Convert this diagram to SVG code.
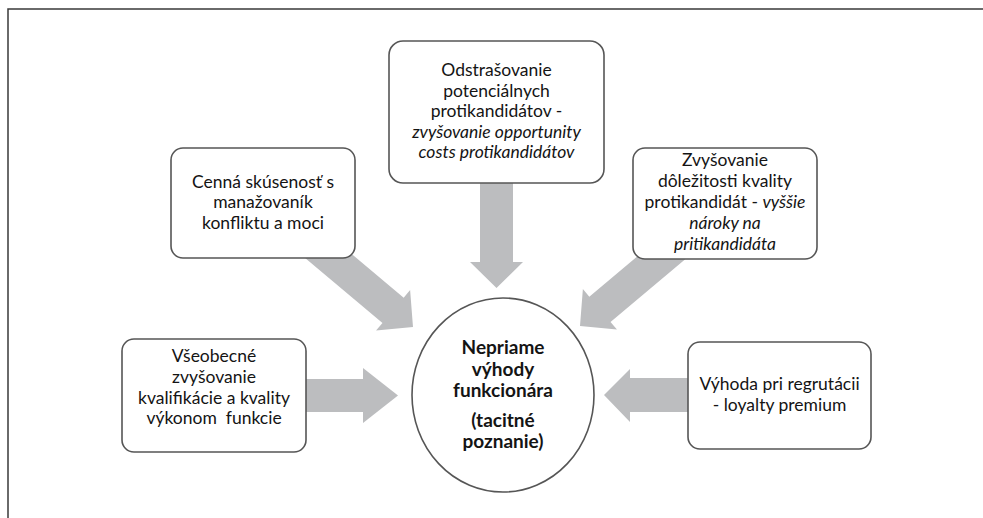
<svg xmlns="http://www.w3.org/2000/svg" width="983" height="518" viewBox="0 0 983 518">
  <style>
    .frame { fill: none; stroke: #3a3a3a; stroke-width: 1.5; }
    .box { fill: #ffffff; stroke: #565656; stroke-width: 1.6; }
    .arrow { fill: #bcbdbf; stroke: none; }
    .t { font-family: Lato, "Liberation Sans", sans-serif; font-size: 17.5px; fill: #141414; text-anchor: middle; }
    .it { font-style: italic; }
    .b { font-family: Lato, "Liberation Sans", sans-serif; font-size: 19px; font-weight: bold; fill: #141414; text-anchor: middle; }
  </style>
  <defs>
    <polygon id="diag" points="-150,-16.5 -26,-16.5 -26,-26.5 0,0 -26,26.5 -26,16.5 -150,16.5"/>
  </defs>
  <rect width="983" height="518" fill="#ffffff"/>
  <path class="frame" d="M8,518 L8,9 L983,9"/>

  <g id="connectors">
    <polygon class="arrow" points="480,175 513,175 513,262 523,262 496.5,288 470,262 480,262"/>
    <use href="#diag" class="arrow" transform="translate(413,327) rotate(40)"/>
    <use href="#diag" class="arrow" transform="translate(580,326) rotate(140)"/>
    <polygon class="arrow" points="300,379 363,379 363,368 398,395.5 363,423 363,412 300,412"/>
    <polygon class="arrow" points="695,378 630,378 630,369 604,395 630,422 630,412 695,412"/>
  </g>

  <g id="node-top">
    <rect class="box" x="389" y="41" width="215" height="142" rx="14"/>
    <text class="t" x="496.5" y="76">Odstrašovanie</text>
    <text class="t" x="496.5" y="96.5">potenciálnych</text>
    <text class="t" x="496.5" y="117">protikandidátov -</text>
    <text class="t it" x="496.5" y="137.5">zvyšovanie opportunity</text>
    <text class="t it" x="496.5" y="158">costs protikandidátov</text>
  </g>

  <g id="node-upper-left">
    <rect class="box" x="171" y="148" width="184" height="110" rx="12"/>
    <text class="t" x="263" y="187.5">Cenná skúsenosť s</text>
    <text class="t" x="263" y="208">manažovaník</text>
    <text class="t" x="263" y="228.5">konfliktu a moci</text>
  </g>

  <g id="node-upper-right">
    <rect class="box" x="633" y="148" width="184" height="111" rx="12"/>
    <text class="t" x="725" y="166">Zvyšovanie</text>
    <text class="t" x="725" y="187">dôležitosti kvality</text>
    <text class="t" x="725" y="208">protikandidát - <tspan class="it">vyššie</tspan></text>
    <text class="t it" x="725" y="229">nároky na</text>
    <text class="t it" x="725" y="250">pritikandidáta</text>
  </g>

  <g id="node-lower-left">
    <rect class="box" x="122" y="339" width="184" height="113" rx="12"/>
    <text class="t" x="214" y="362">Všeobecné</text>
    <text class="t" x="214" y="383">zvyšovanie</text>
    <text class="t" x="214" y="404">kvalifikácie a kvality</text>
    <text class="t" x="214" y="424" style="white-space:pre">výkonom  funkcie</text>
  </g>

  <g id="node-lower-right">
    <rect class="box" x="688" y="342" width="183" height="107" rx="12"/>
    <text class="t" x="779.5" y="390">Výhoda pri regrutácii</text>
    <text class="t" x="779.5" y="411">- loyalty premium</text>
  </g>

  <g id="node-center">
    <ellipse class="box" cx="503" cy="395" rx="91" ry="97"/>
    <text class="b" x="503" y="354">Nepriame</text>
    <text class="b" x="503" y="375.5">výhody</text>
    <text class="b" x="503" y="397">funkcionára</text>
    <text class="b" x="503" y="427">(tacitné</text>
    <text class="b" x="503" y="448">poznanie)</text>
  </g>
</svg>
